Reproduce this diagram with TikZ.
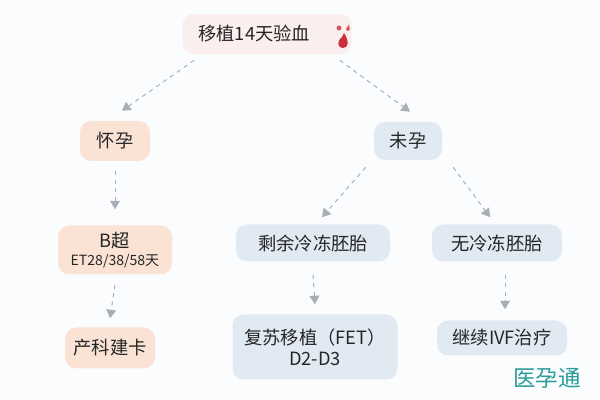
\documentclass[tikz,border=0pt]{standalone}
\usepackage{fontspec}
\setmainfont{Noto Sans CJK SC}
\usetikzlibrary{arrows.meta}
\definecolor{bg}{HTML}{FBFCFE}
\definecolor{pinkf}{HTML}{FBEEEF}
\definecolor{peach}{HTML}{FAE3D5}
\definecolor{blue}{HTML}{E1E9F2}
\definecolor{arr}{HTML}{A8AEB6}
\definecolor{blood}{HTML}{C8303A}
\definecolor{wm}{HTML}{2A9C9A}
\tikzset{
  box/.style={rounded corners=8pt, inner sep=0pt, align=center, font=\fontsize{13}{15}\selectfont, text=black!85},
  conn/.style={draw=arr, dashed, line width=0.7pt, -{Triangle[length=6pt,width=7pt,fill=arr]}}
}
\begin{document}
\begin{tikzpicture}[x=0.025cm,y=-0.025cm]
\fill[bg] (0,0) rectangle (600,400);
\useasboundingbox (0,0) rectangle (600,400);
\node[box, fill=pinkf, minimum width=169*0.025cm, minimum height=40*0.025cm] (top) at (267,34) {移植14天验血\hspace{1.4em}};
\fill[blood] (342,37) .. controls (336,42) and (338,48) .. (343,48) .. controls (348,48) and (350,42) .. (344,33) -- cycle;
\fill[blood!80] (339,28) circle (2.5);
\fill[blood!80] (348,26) .. controls (345,29) and (346,31) .. (348,31) .. controls (350,31) and (351,29) .. (348,24) -- cycle;
\node[box, fill=peach, minimum width=70*0.025cm, minimum height=40*0.025cm] (hy) at (115,141) {怀孕};
\node[box, fill=blue, minimum width=68*0.025cm, minimum height=38*0.025cm] (wy) at (408,141) {未孕};
\node[box, fill=peach, minimum width=114*0.025cm, minimum height=49*0.025cm] (bc) at (115,250) {B超\\[-2pt]{\fontsize{10}{12}\selectfont ET28/38/58天}};
\node[box, fill=blue, minimum width=154*0.025cm, minimum height=37*0.025cm] (sy) at (313,243) {剩余冷冻胚胎};
\node[box, fill=blue, minimum width=130*0.025cm, minimum height=37*0.025cm] (wl) at (497,243) {无冷冻胚胎};
\node[box, fill=peach, minimum width=90*0.025cm, minimum height=41*0.025cm] (ck) at (110,348) {产科建卡};
\node[box, fill=blue, minimum width=165*0.025cm, minimum height=65*0.025cm] (fs) at (315,347) {复苏移植（FET）\\D2-D3};
\node[box, fill=blue, minimum width=130*0.025cm, minimum height=35*0.025cm] (jx) at (502,338) {继续IVF治疗};
\node[font=\fontsize{16}{18}\selectfont, text=wm] (wmk) at (547,378) {医孕通};
\draw[conn] ([xshift=12*0.025cm,yshift=-6*0.025cm]top.south west) -- ([xshift=7*0.025cm,yshift=10*0.025cm]hy.north);
\draw[conn] ([xshift=-12*0.025cm,yshift=-6*0.025cm]top.south east) -- ([xshift=2*0.025cm,yshift=10*0.025cm]wy.north);
\draw[conn] ([xshift=-8*0.025cm,yshift=-7*0.025cm]wy.south west) -- ([xshift=9*0.025cm,yshift=7*0.025cm]sy.north);
\draw[conn] ([xshift=11*0.025cm,yshift=-7*0.025cm]wy.south east) -- ([xshift=-7*0.025cm,yshift=7*0.025cm]wl.north);
\draw[conn] ([yshift=-10*0.025cm]hy.south) -- ([yshift=16*0.025cm]bc.north);
\draw[conn] ([yshift=-10*0.025cm]bc.south) -- ([yshift=9*0.025cm]ck.north);
\draw[conn] ([yshift=-13*0.025cm]sy.south) -- ([yshift=10*0.025cm]fs.north);
\draw[conn] ([xshift=8*0.025cm,yshift=-13*0.025cm]wl.south) -- ([xshift=3*0.025cm,yshift=11*0.025cm]jx.north);
\end{tikzpicture}
\end{document}
